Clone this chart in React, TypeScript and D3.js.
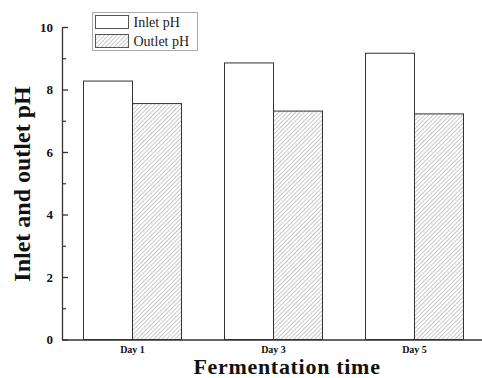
import { useEffect, useRef } from 'react';
import * as d3 from 'd3';

const days = ['Day 1', 'Day 3', 'Day 5'];
const series = ['Inlet pH', 'Outlet pH'];
const inletPH = [8.27, 8.85, 9.16];
const outletPH = [7.55, 7.31, 7.22];
const majorTicks = [0, 2, 4, 6, 8, 10];
const minorTicks = [1, 3, 5, 7, 9];

const W = 482;
const H = 378;
const margin = { top: 27, right: -3, bottom: 38, left: 62 };
const serif = '"Liberation Serif", "Times New Roman", serif';

export default function App() {
  const ref = useRef<SVGSVGElement | null>(null);

  useEffect(() => {
    if (!ref.current) return;
    const svg = d3.select(ref.current);
    svg.selectAll('*').remove();

    const x0 = d3
      .scaleBand<string>()
      .domain(days)
      .range([margin.left, W - margin.right])
      .paddingInner(0.305)
      .paddingOuter(0.1525);
    const x1 = d3.scaleBand<string>().domain(series).range([0, x0.bandwidth()]);
    const y = d3.scaleLinear().domain([0, 10]).range([H - margin.bottom - 0.5, margin.top]);

    const defs = svg.append('defs');
    const pat = defs
      .append('pattern')
      .attr('id', 'hatch')
      .attr('patternUnits', 'userSpaceOnUse')
      .attr('width', 3)
      .attr('height', 3)
      .attr('patternTransform', 'rotate(45)');
    pat.append('rect').attr('width', 3).attr('height', 3).attr('fill', '#fff');
    pat.append('line').attr('x1', 0).attr('y1', 0).attr('x2', 0).attr('y2', 3)
      .attr('stroke', '#9a9a9a').attr('stroke-width', 1.1);

    const rows = days.map((d, i) => ({ day: d, vals: [inletPH[i], outletPH[i]] }));

    const g = svg.append('g');
    rows.forEach((r) => {
      r.vals.forEach((v, j) => {
        const s = series[j];
        g.append('rect')
          .attr('x', (x0(r.day) ?? 0) + (x1(s) ?? 0))
          .attr('y', y(v))
          .attr('width', x1.bandwidth())
          .attr('height', y(0) - y(v))
          .attr('fill', j === 0 ? '#fff' : 'url(#hatch)')
          .attr('stroke', '#333')
          .attr('stroke-width', 1);
      });
    });

    // y axis
    const yAxis = svg
      .append('g')
      .attr('transform', `translate(${margin.left},0)`)
      .call(d3.axisLeft(y).tickValues(majorTicks).tickSizeInner(-6).tickSizeOuter(0).tickPadding(9));
    yAxis.select('.domain').attr('stroke', '#333').attr('stroke-width', 1.3);
    yAxis.selectAll('line').attr('stroke', '#333').attr('stroke-width', 1.3);
    yAxis.selectAll('text')
      .attr('font-family', serif)
      .attr('font-weight', 'bold')
      .attr('font-size', 13)
      .attr('fill', '#111');
    svg.append('g')
      .attr('transform', `translate(${margin.left},0)`)
      .call(d3.axisLeft(y).tickValues(minorTicks).tickSizeInner(-4).tickSizeOuter(0).tickFormat(() => ''))
      .call((a) => a.select('.domain').remove())
      .selectAll('line').attr('stroke', '#333').attr('stroke-width', 1.2);

    // x axis
    const xAxis = svg
      .append('g')
      .attr('transform', `translate(0,${y(0)})`)
      .call(d3.axisBottom(x0).tickSize(0).tickPadding(6));
    xAxis.select('.domain').attr('stroke', '#333').attr('stroke-width', 1.3);
    xAxis.selectAll('text')
      .attr('font-family', serif)
      .attr('font-weight', 'bold')
      .attr('font-size', 10)
      .attr('fill', '#111');

    svg.append('text')
      .attr('x', 287)
      .attr('y', 374)
      .attr('text-anchor', 'middle')
      .attr('font-family', serif)
      .attr('font-weight', 'bold')
      .attr('font-size', 22)
      .attr('letter-spacing', 0.7)
      .attr('fill', '#111')
      .text('Fermentation time');

    svg.append('text')
      .attr('transform', `translate(30,184) rotate(-90)`)
      .attr('text-anchor', 'middle')
      .attr('font-family', serif)
      .attr('font-weight', 'bold')
      .attr('font-size', 24)
      .attr('fill', '#111')
      .text('Inlet and outlet pH');

    // legend
    const lg = svg.append('g').attr('transform', 'translate(92.5,12.5)');
    lg.append('rect').attr('width', 105).attr('height', 38)
      .attr('fill', '#fff').attr('stroke', '#aaa').attr('stroke-width', 1);
    series.forEach((s, i) => {
      lg.append('rect')
        .attr('x', 3).attr('y', 3 + i * 19).attr('width', 33).attr('height', 13)
        .attr('fill', i === 0 ? '#fff' : 'url(#hatch)')
        .attr('stroke', '#555').attr('stroke-width', 1);
      lg.append('text')
        .attr('x', 41).attr('y', 14 + i * 19)
        .attr('font-family', serif).attr('font-size', 14).attr('fill', '#222')
        .text(s);
    });
  }, []);

  return (
    <svg ref={ref} width={W} height={H} style={{ position: 'absolute', left: 0, top: 0, background: '#fff' }} />
  );
}
